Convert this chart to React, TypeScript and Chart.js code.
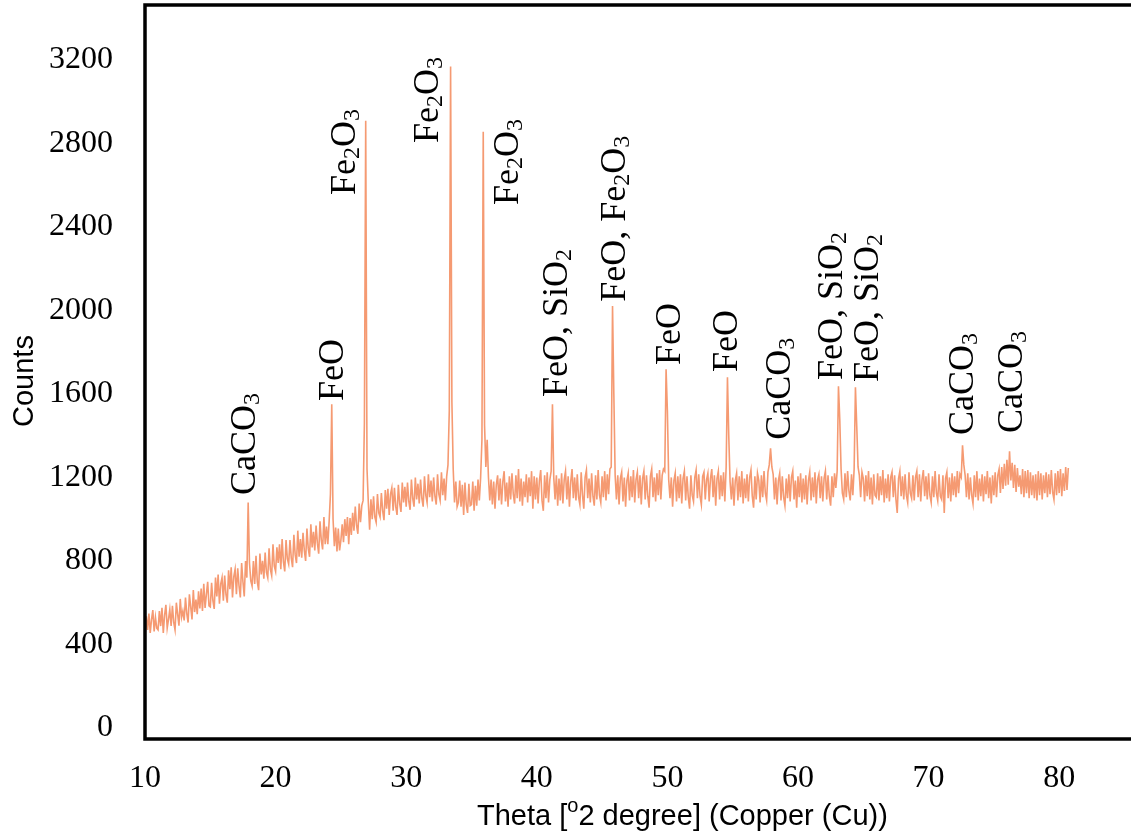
import React, { useEffect, useRef } from 'react';
import { Chart, registerables } from 'chart.js';

Chart.register(...registerables);

// Scan grid of the diffractogram (2θ, degrees)
const START_ANGLE = 10;
const STEP_ANGLE = 0.1;

// Counts, one row per degree (x.0 … x.9)
const counts10to19 = [
  440, 535, 470, 548, 455, 520, 565, 462, 530, 478,
  470, 560, 488, 575, 455, 540, 590, 478, 520, 568,
  488, 585, 505, 470, 600, 545, 490, 618, 530, 560,
  515, 625, 548, 505, 640, 580, 520, 660, 555, 615,
  545, 655, 572, 668, 560, 690, 575, 640, 700, 585,
  580, 695, 610, 570, 720, 630, 735, 595, 690, 720,
  610, 730, 640, 600, 755, 665, 770, 625, 725, 760,
  640, 765, 680, 625, 790, 700, 630, 800, 720, 1080,
  790, 705, 680, 800, 690, 825, 700, 660, 835, 735,
  800, 715, 840, 745, 720, 860, 760, 730, 880, 775,
];
const counts20to29 = [
  750, 865, 790, 880, 760, 905, 795, 750, 900, 810,
  785, 900, 815, 770, 925, 830, 790, 945, 820, 905,
  815, 935, 850, 800, 955, 860, 820, 975, 865, 940,
  850, 970, 885, 835, 990, 900, 855, 1010, 880, 965,
  880, 990, 1120, 1550, 1000, 870, 960, 845, 955, 850,
  900, 975, 890, 1000, 920, 1010, 880, 1005, 925, 1030,
  945, 1060, 970, 930, 1075, 985, 1065, 1090, 1460, 2909,
  1240, 1080, 950, 1095, 1000, 1110, 1010, 985, 1120, 1030,
  1010, 1125, 1040, 995, 1140, 1050, 1145, 1020, 1120, 1150,
  1040, 1150, 1060, 1020, 1165, 1075, 1035, 1175, 1080, 1155,
];
const counts30to39 = [
  1060, 1175, 1085, 1045, 1190, 1100, 1060, 1200, 1095, 1170,
  1075, 1190, 1100, 1060, 1205, 1115, 1080, 1215, 1105, 1185,
  1085, 1200, 1110, 1070, 1215, 1120, 1090, 1225, 1115, 1195,
  1090, 1205, 1260, 1520, 3168, 1560, 1240, 1080, 1180, 1060,
  1080, 1185, 1060, 1165, 1020, 1175, 1070, 1030, 1170, 1065,
  1070, 1180, 1040, 1160, 1065, 1190, 1090, 1200, 1380, 2856,
  1450, 1250, 1380, 1200, 1090, 1190, 1070, 1180, 1050, 1165,
  1210, 1090, 1195, 1070, 1180, 1230, 1085, 1175, 1060, 1205,
  1095, 1220, 1120, 1075, 1210, 1100, 1240, 1085, 1195, 1065,
  1180, 1105, 1215, 1080, 1200, 1110, 1230, 1050, 1205, 1095,
];
const counts40to49 = [
  1200, 1075, 1185, 1235, 1090, 1040, 1210, 1100, 1225, 1080,
  1190, 1230, 1550, 1200, 1095, 1210, 1065, 1195, 1090, 1220,
  1075, 1190, 1230, 1095, 1205, 1060, 1180, 1240, 1100, 1200,
  1090, 1215, 1105, 1070, 1225, 1115, 1050, 1200, 1235, 1100,
  1195, 1080, 1220, 1110, 1065, 1210, 1095, 1235, 1115, 1080,
  1205, 1105, 1230, 1090, 1215, 1120, 1240, 1250, 2021, 1600,
  1210, 1095, 1210, 1070, 1195, 1225, 1085, 1200, 1060, 1185,
  1220, 1090, 1205, 1105, 1235, 1080, 1190, 1225, 1100, 1210,
  1070, 1195, 1230, 1095, 1210, 1110, 1055, 1205, 1240, 1105,
  1200, 1085, 1220, 1115, 1235, 1095, 1210, 1240, 1230, 1718,
];
const counts50to59 = [
  1520, 1190, 1100, 1200, 1060, 1185, 1220, 1085, 1205, 1100,
  1215, 1075, 1195, 1230, 1090, 1205, 1105, 1050, 1210, 1115,
  1085, 1200, 1235, 1100, 1215, 1110, 1070, 1205, 1225, 1095,
  1190, 1220, 1085, 1195, 1240, 1105, 1210, 1065, 1195, 1230,
  1095, 1210, 1110, 1225, 1085, 1250, 1680, 1400, 1180, 1095,
  1200, 1065, 1185, 1220, 1090, 1205, 1105, 1230, 1075, 1195,
  1100, 1215, 1085, 1200, 1235, 1110, 1055, 1205, 1095, 1220,
  1185, 1080, 1210, 1105, 1230, 1125, 1090, 1225, 1260, 1339,
  1250, 1215, 1095, 1200, 1070, 1185, 1220, 1090, 1205, 1105,
  1065, 1195, 1100, 1215, 1085, 1200, 1230, 1095, 1185, 1055,
];
const counts60to69 = [
  1205, 1105, 1220, 1080, 1195, 1095, 1210, 1070, 1185, 1225,
  1090, 1200, 1105, 1225, 1075, 1190, 1215, 1100, 1205, 1085,
  1195, 1230, 1095, 1210, 1110, 1065, 1205, 1105, 1220, 1150,
  1230, 1637, 1478, 1240, 1125, 1095, 1220, 1105, 1230, 1135,
  1090, 1215, 1115, 1240, 1632, 1445, 1250, 1210, 1105, 1225,
  1195, 1085, 1210, 1110, 1230, 1095, 1200, 1070, 1215, 1115,
  1105, 1220, 1090, 1205, 1115, 1235, 1080, 1195, 1100, 1215,
  1085, 1200, 1225, 1105, 1210, 1095, 1030, 1195, 1230, 1110,
  1205, 1095, 1215, 1115, 1080, 1225, 1125, 1100, 1210, 1090,
  1200, 1230, 1105, 1215, 1085, 1190, 1235, 1110, 1205, 1095,
];
const counts70to80 = [
  1220, 1115, 1080, 1205, 1105, 1230, 1125, 1090, 1215, 1110,
  1095, 1210, 1030, 1195, 1225, 1100, 1200, 1085, 1220, 1115,
  1205, 1105, 1230, 1125, 1215, 1200, 1354, 1260, 1210, 1105,
  1220, 1095, 1200, 1115, 1075, 1210, 1105, 1230, 1090, 1195,
  1110, 1215, 1085, 1205, 1120, 1230, 1100, 1200, 1075, 1210,
  1115, 1225, 1105, 1210, 1240, 1125, 1250, 1145, 1265, 1160,
  1285, 1165, 1325, 1185, 1270, 1150, 1260, 1130, 1245, 1155,
  1210, 1120, 1240, 1105, 1230, 1125, 1235, 1100, 1225, 1115,
  1210, 1100, 1215, 1090, 1230, 1115, 1220, 1095, 1210, 1125,
  1225, 1105, 1215, 1120, 1235, 1130, 1095, 1220, 1115, 1230,
  1125, 1240, 1110, 1220, 1135, 1250, 1140, 1245,
];

const xTickValues = [10, 20, 30, 40, 50, 60, 70, 80];
const yTickValues = [0, 400, 800, 1200, 1600, 2000, 2400, 2800, 3200];

// Phase labels ("_" = subscript) and their anchors (2θ, counts)
const phaseLabels = [
  'CaCO_3', 'FeO', 'Fe_2O_3', 'Fe_2O_3', 'Fe_2O_3', 'FeO, SiO_2', 'FeO, Fe_2O_3',
  'FeO', 'FeO', 'CaCO_3', 'FeO, SiO_2', 'FeO, SiO_2', 'CaCO_3', 'CaCO_3',
];
const labelAngles = [18.42, 25.16, 26.08, 32.44, 38.57, 42.32, 46.76, 50.97, 55.34, 59.4, 63.38, 66.14, 73.41, 77.17];
const labelCounts = [1116, 1566, 2553, 2802, 2505, 1585, 2041, 1739, 1705, 1380, 1667, 1657, 1403, 1413];

const xTitle = 'Theta [^o2 degree] (Copper (Cu))';
const yTitle = 'Counts';

const SERIF = '"Liberation Serif", "Times New Roman", serif';
const SANS = '"Liberation Sans", Arial, sans-serif';

type Part = { t: string; mode: 'n' | 'sub' | 'sup' };
function parseRich(text: string): Part[] {
  const parts: Part[] = [];
  let buf = '';
  for (let i = 0; i < text.length; i++) {
    const c = text[i];
    if ((c === '_' || c === '^') && i + 1 < text.length) {
      if (buf) parts.push({ t: buf, mode: 'n' });
      buf = '';
      parts.push({ t: text[i + 1], mode: c === '_' ? 'sub' : 'sup' });
      i++;
    } else buf += c;
  }
  if (buf) parts.push({ t: buf, mode: 'n' });
  return parts;
}

function drawRich(
  ctx: CanvasRenderingContext2D, text: string, x: number, y: number,
  size: number, smallSize: number, subShift: number, supShift: number, family: string,
) {
  let cx = x;
  for (const p of parseRich(text)) {
    const s = p.mode === 'n' ? size : smallSize;
    ctx.font = `${s}px ${family}`;
    const dy = p.mode === 'sub' ? subShift : p.mode === 'sup' ? -supShift : 0;
    ctx.fillText(p.t, cx, y + dy);
    cx += ctx.measureText(p.t).width;
  }
}

const decorPlugin = {
  id: 'xrdDecor',
  afterDraw(chart: any) {
    const { ctx, chartArea } = chart;
    const xs = chart.scales.x;
    const ys = chart.scales.y;
    ctx.save();
    ctx.fillStyle = '#000';

    // tick labels
    ctx.font = `32px ${SERIF}`;
    ctx.textAlign = 'right';
    ctx.textBaseline = 'middle';
    yTickValues.forEach((v) => {
      ctx.fillText(String(v), chartArea.left - 32, ys.getPixelForValue(v));
    });
    ctx.textAlign = 'center';
    xTickValues.forEach((v) => {
      ctx.fillText(String(v), xs.getPixelForValue(v), chartArea.bottom + 40);
    });

    // phase labels
    ctx.textAlign = 'left';
    ctx.textBaseline = 'alphabetic';
    phaseLabels.forEach((lab, i) => {
      const px = xs.getPixelForValue(labelAngles[i]);
      const py = ys.getPixelForValue(labelCounts[i]);
      ctx.save();
      ctx.translate(px, py);
      ctx.rotate(-Math.PI / 2);
      drawRich(ctx, lab, 0, 0, 36, 24, 4, 0, SERIF);
      ctx.restore();
    });

    // frame: left, top and bottom lines
    ctx.strokeStyle = '#000';
    ctx.lineWidth = 3.5;
    ctx.lineJoin = 'miter';
    ctx.beginPath();
    ctx.moveTo(chart.width, chartArea.top);
    ctx.lineTo(chartArea.left, chartArea.top);
    ctx.lineTo(chartArea.left, chartArea.bottom);
    ctx.lineTo(chart.width, chartArea.bottom);
    ctx.stroke();

    // axis titles
    drawRich(ctx, xTitle, 477, 825, 29, 20, 0, 13, SANS);
    ctx.save();
    ctx.translate(33, 427);
    ctx.rotate(-Math.PI / 2);
    drawRich(ctx, yTitle, 0, 0, 29, 20, 0, 0, SANS);
    ctx.restore();
    ctx.restore();
  },
};

export default function App() {
  const ref = useRef<HTMLCanvasElement>(null);
  useEffect(() => {
    const counts = [
      ...counts10to19, ...counts20to29, ...counts30to39, ...counts40to49,
      ...counts50to59, ...counts60to69, ...counts70to80,
    ];
    const points = counts.map((c, i) => ({ x: START_ANGLE + i * STEP_ANGLE, y: c }));
    const chart = new Chart(ref.current as HTMLCanvasElement, {
      type: 'line',
      data: {
        datasets: [
          {
            data: points,
            borderColor: '#F59A72',
            borderWidth: 1.6,
            pointRadius: 0,
            tension: 0,
            fill: false,
          },
        ],
      },
      options: {
        animation: false,
        responsive: false,
        devicePixelRatio: 1,
        parsing: false,
        layout: { padding: { top: 5, right: 0, bottom: 0, left: 0 }, autoPadding: false },
        plugins: { legend: { display: false }, tooltip: { enabled: false } },
        scales: {
          x: {
            type: 'linear',
            min: 10,
            max: 85.5,
            grid: { display: false, drawTicks: false },
            border: { display: false },
            ticks: { display: false },
            afterFit: (s: any) => { s.height = 99; },
          },
          y: {
            type: 'linear',
            min: -53,
            max: 3463,
            grid: { display: false, drawTicks: false },
            border: { display: false },
            ticks: { display: false },
            afterFit: (s: any) => { s.width = 145; },
          },
        },
      },
      plugins: [decorPlugin],
    } as any);
    return () => chart.destroy();
  }, []);
  return (
    <div style={{ position: 'fixed', left: 0, top: 0, width: 1131, height: 838, background: '#fff' }}>
      <canvas ref={ref} width={1131} height={838} style={{ width: 1131, height: 838, display: 'block' }} />
    </div>
  );
}
